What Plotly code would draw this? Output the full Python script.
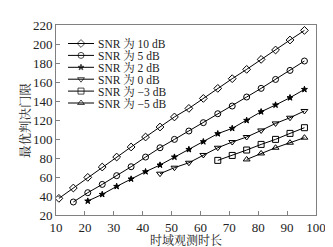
import plotly.graph_objects as go

# ---- data ----
x_10dB = [11, 16, 21, 26, 31, 36, 41, 46, 51, 56, 61, 66, 71, 76, 81, 86, 91, 96]
y_10dB = [37.5, 48.4, 59.6, 70.5, 81, 91.6, 102.1, 112.6, 123.2, 132.2, 142.7, 153.3,
          163.5, 173.3, 183.8, 193.7, 204.2, 214.3]
x_5dB = [16, 21, 26, 31, 36, 41, 46, 51, 56, 61, 66, 71, 76, 81, 86, 91, 96]
y_5dB = [33.7, 43.5, 52.2, 61.4, 70.8, 81, 90.8, 99.6, 108.4, 117.2, 126.6,
         134.7, 144.2, 153.3, 162.7, 172.2, 182.1]
x_2dB = [21, 26, 31, 36, 41, 46, 51, 56, 61, 66, 71, 76, 81, 86, 91, 96]
y_2dB = [34.7, 41.7, 50.1, 57.9, 65.6, 72.6, 81, 89, 97.2, 105.6,
         111.2, 119.6, 128.7, 135.8, 143.5, 152.2]
x_0dB = [46, 51, 56, 61, 66, 71, 76, 81, 86, 91, 96]
y_0dB = [63.5, 69.8, 75, 83.2, 90.8, 96.8, 102.1, 109, 116.4, 122.4, 129.5]
x_m3dB = [66, 71, 76, 81, 86, 91, 96]
y_m3dB = [77.5, 82.7, 88.4, 94.3, 99.6, 105.9, 111.9]
x_m5dB = [76, 81, 86, 91, 96]
y_m5dB = [78.5, 84.8, 90.8, 96.1, 101.4]

series_names = ["SNR 为 10 dB", "SNR 为 5 dB", "SNR 为 2 dB",
                "SNR 为 0 dB", "SNR 为 −3 dB", "SNR 为 −5 dB"]
series_x = [x_10dB, x_5dB, x_2dB, x_0dB, x_m3dB, x_m5dB]
series_y = [y_10dB, y_5dB, y_2dB, y_0dB, y_m3dB, y_m5dB]
symbols = ["diamond-open", "circle-open", "star", "triangle-down-open",
           "square-open", "triangle-up-open"]
sizes = [6, 6, 4.5, 6, 6, 6]

x_ticks = [10, 20, 30, 40, 50, 60, 70, 80, 90, 100]
y_ticks = [20, 40, 60, 80, 100, 120, 140, 160, 180, 200, 220]
x_title = "时域观测时长"
y_title = "最优判决门限"

SERIF = "Liberation Serif, Noto Serif CJK SC, Noto Sans CJK SC, serif"
TXT = "#222222"
FRAME = "#808080"

fig = go.Figure()
for xs, ys, name, sym, sz in zip(series_x, series_y, series_names, symbols, sizes):
    fig.add_trace(go.Scatter(
        x=xs, y=ys, name=name, mode="lines+markers",
        line=dict(color="black", width=1),
        marker=dict(symbol=sym, size=sz, color="black",
                    line=dict(color="black", width=1)),
        showlegend=False))

# ---- custom compact legend on an overlay pixel-like axis ----
row0, row_step = 18.5, 11.9
for i, (name, sym, sz) in enumerate(zip(series_names, symbols, sizes)):
    ry = row0 + row_step * i
    fig.add_trace(go.Scatter(
        x=[12, 25, 38], y=[ry, ry, ry], mode="lines+markers",
        xaxis="x2", yaxis="y2", showlegend=False, hoverinfo="skip",
        line=dict(color="black", width=1),
        marker=dict(symbol=sym, size=[0, sz, 0], color="black",
                    line=dict(color="black", width=1))))
    fig.add_annotation(x=40, y=ry, xref="x2", yref="y2", text=name,
                       showarrow=False, xanchor="left", yanchor="middle",
                       font=dict(family=SERIF, size=11.5, color=TXT))

# axis titles placed as annotations (paper coords)
fig.add_annotation(x=0.5, y=-0.132, xref="paper", yref="paper", text=x_title,
                   showarrow=False, xanchor="center", yanchor="middle",
                   borderpad=0,
                   font=dict(family=SERIF, size=12, color=TXT))
fig.add_annotation(x=-0.119, y=0.5, xref="paper", yref="paper", text=y_title,
                   showarrow=False, xanchor="center", yanchor="middle",
                   textangle=-90,
                   font=dict(family=SERIF, size=12.5, color=TXT))

fig.update_layout(
    width=333, height=247,
    margin=dict(l=48, r=25, t=17, b=40),
    paper_bgcolor="white", plot_bgcolor="white",
    font=dict(family=SERIF, size=13, color=TXT),
    xaxis=dict(range=[10, 100], tickvals=x_ticks, ticks="inside", ticklen=4,
               tickcolor=FRAME, showgrid=False, zeroline=False, automargin=False,
               showline=True, linecolor=FRAME, linewidth=1, mirror=True,
               tickfont=dict(family=SERIF, size=13, color=TXT)),
    yaxis=dict(range=[20, 220], tickvals=y_ticks, ticks="inside", ticklen=4,
               tickcolor=FRAME, showgrid=False, zeroline=False, automargin=False,
               showline=True, linecolor=FRAME, linewidth=1, mirror=True,
               tickfont=dict(family=SERIF, size=13, color=TXT)),
    xaxis2=dict(range=[0, 260], overlaying="x", visible=False, fixedrange=True),
    yaxis2=dict(range=[190, 0], overlaying="y", visible=False, fixedrange=True),
)

fig.write_html("out.html")
